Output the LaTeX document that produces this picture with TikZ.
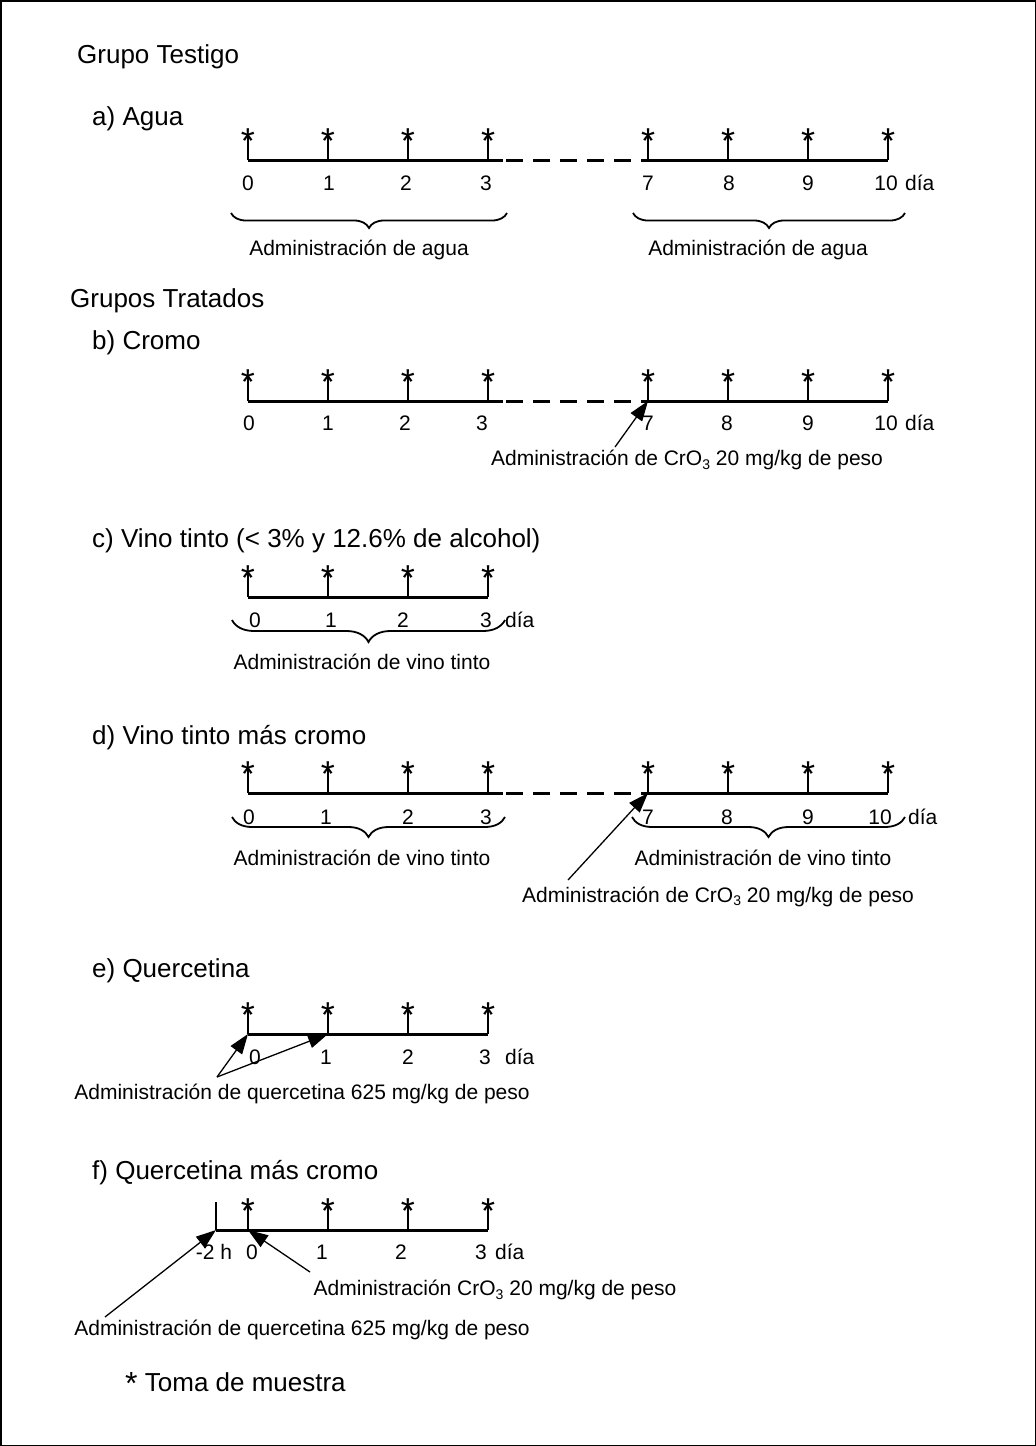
\documentclass[tikz,border=0pt]{standalone}
\usepackage{fontspec}
\setmainfont{Liberation Sans}
\usetikzlibrary{arrows.meta,decorations.pathreplacing}
\newcommand\subthree{\raisebox{-3.5pt}{\fontsize{14}{14}\selectfont 3}}
\begin{document}
\begin{tikzpicture}[x=1pt,y=-1pt,
  hd/.style={anchor=base west,inner sep=0pt,font=\fontsize{26}{30}\selectfont},
  lb/.style={anchor=base,inner sep=0pt,font=\fontsize{21}{25}\selectfont},
  lbw/.style={lb,anchor=base west},
  ast/.style={anchor=base,inner sep=0pt,font=\fontsize{36}{40}\selectfont},
  axisline/.style={line width=3pt},
  tk/.style={line width=1.6pt},
  dashgap/.style={line width=3pt,dash pattern=on 17pt off 10pt},
  brc/.style={decorate,decoration={brace,mirror,amplitude=#1},line width=1.8pt},
  arr/.style={-{Triangle[length=20pt,width=14pt]},line width=1.3pt},
]
\useasboundingbox (0,0) rectangle (1036,1446);
\draw[line width=1.5pt] (0.75,0.75) rectangle (1035.25,1445.25);

% ---------------- a) Agua
\node[hd] (tGT) at (77,63) {Grupo Testigo};
\node[hd] (tA) at (92,125) {a) Agua};
\def\Y{160}
\draw[axisline] (248,\Y) -- (503,\Y);
\draw[dashgap] (506,\Y) -- (648,\Y);
\draw[axisline] (648,\Y) -- (888,\Y);
\foreach \n/\x in {0/248,1/328,2/408,3/488,7/648,8/728,9/808,10/888}{
  \coordinate (a\n) at (\x,\Y);
  \draw[tk] (\x,{\Y-26}) -- (a\n);
  \node[ast] (as\n) at (\x,{\Y-7}) {*};
}
\foreach \n/\x in {0/248,1/329,2/406,3/486,7/648,8/729,9/808,10/886}{
  \node[lb] (an\n) at (\x,190.5) {\n};
}
\node[lbw] (adia) at (905,190.5) {día};
\draw[brc=15] (231,213) -- (507,213);
\draw[brc=15] (633,213) -- (905,213);
\node[lb] (aAd1) at (359,255.5) {Administración de agua};
\node[lb] (aAd2) at (758,255.5) {Administración de agua};

% ---------------- b) Cromo
\node[hd] (tGTr) at (70,307) {Grupos Tratados};
\node[hd] (tB) at (92,349) {b) Cromo};
\def\Y{401}
\draw[axisline] (248,\Y) -- (503,\Y);
\draw[dashgap] (506,\Y) -- (648,\Y);
\draw[axisline] (648,\Y) -- (888,\Y);
\foreach \n/\x in {0/248,1/328,2/408,3/488,7/648,8/728,9/808,10/888}{
  \coordinate (b\n) at (\x,\Y);
  \draw[tk] (\x,{\Y-26}) -- (b\n);
  \node[ast] (bs\n) at (\x,{\Y-7}) {*};
}
\foreach \n/\x in {0/249,1/328,2/405,3/482,7/648,8/727,9/808,10/886}{
  \node[lb] (bn\n) at (\x,430.5) {\n};
}
\node[lbw] (bdia) at (905,430.5) {día};
\node[lb] (bCr) at (687,465.5) {Administración de CrO\subthree{} 20 mg/kg de peso};
\coordinate (bT) at (615,447);
\draw[arr] (bT) -- (b7);

% ---------------- c) Vino tinto
\node[hd] (tC) at (92,547) {c) Vino tinto (< 3\% y 12.6\% de alcohol)};
\def\Y{597}
\draw[axisline] (248,\Y) -- (488,\Y);
\foreach \n/\x in {0/248,1/328,2/408,3/488}{
  \coordinate (c\n) at (\x,\Y);
  \draw[tk] (\x,{\Y-26}) -- (c\n);
  \node[ast] (cs\n) at (\x,{\Y-7}) {*};
}
\foreach \n/\x in {0/255,1/331,2/403,3/486}{
  \node[lb] (cn\n) at (\x,627.5) {\n};
}
\node[lbw] (cdia) at (505,627.5) {día};
\draw[brc=22] (232,620) -- (505,620);
\node[lb] (cAd) at (362,669.5) {Administración de vino tinto};

% ---------------- d) Vino tinto mas cromo
\node[hd] (tD) at (92,744) {d) Vino tinto más cromo};
\def\Y{793}
\draw[axisline] (248,\Y) -- (503,\Y);
\draw[dashgap] (506,\Y) -- (648,\Y);
\draw[axisline] (648,\Y) -- (888,\Y);
\foreach \n/\x in {0/248,1/328,2/408,3/488,7/648,8/728,9/808,10/888}{
  \coordinate (d\n) at (\x,\Y);
  \draw[tk] (\x,{\Y-26}) -- (d\n);
  \node[ast] (ds\n) at (\x,{\Y-7}) {*};
}
\foreach \n/\x in {0/249,1/326,2/408,3/486,7/648,8/727,9/808,10/880}{
  \node[lb] (dn\n) at (\x,824.5) {\n};
}
\node[lbw] (ddia) at (908,824.5) {día};
\draw[brc=20] (232,817) -- (505,817);
\draw[brc=20] (632,817) -- (905,817);
\node[lb] (dAd1) at (362,865.5) {Administración de vino tinto};
\node[lb] (dAd2) at (763,865.5) {Administración de vino tinto};
\node[lb] (dCr) at (718,902) {Administración de CrO\subthree{} 20 mg/kg de peso};
\coordinate (dT) at (568,880);
\draw[arr] (dT) -- (d7);

% ---------------- e) Quercetina
\node[hd] (tE) at (92,977) {e) Quercetina};
\def\Y{1034}
\draw[axisline] (248,\Y) -- (488,\Y);
\foreach \n/\x in {0/248,1/328,2/408,3/488}{
  \coordinate (e\n) at (\x,\Y);
  \draw[tk] (\x,{\Y-26}) -- (e\n);
  \node[ast] (es\n) at (\x,{\Y-7}) {*};
}
\foreach \n/\x in {0/255,1/326,2/408,3/485}{
  \node[lb] (en\n) at (\x,1064.5) {\n};
}
\node[lbw] (edia) at (505,1064.5) {día};
\node[lb] (eQ) at (302,1099.5) {Administración de quercetina 625 mg/kg de peso};
\coordinate (eT) at (217,1077);
\draw[arr] (eT) -- (e0);
\draw[arr] (eT) -- (e1);

% ---------------- f) Quercetina mas cromo
\node[hd] (tF) at (92,1179) {f) Quercetina más cromo};
\def\Y{1230}
\coordinate (fm) at (216,\Y);
\draw[axisline] (fm) -- (488,\Y);
\draw[tk] (216,1202) -- (fm);
\foreach \n/\x in {0/248,1/328,2/408,3/488}{
  \coordinate (f\n) at (\x,\Y);
  \draw[tk] (\x,{\Y-24}) -- (f\n);
  \node[ast] (fs\n) at (\x,{\Y-7}) {*};
}
\node[lb] (fnm) at (214,1259.5) {-2 h};
\foreach \n/\x in {0/252,1/322,2/401,3/481}{
  \node[lb] (fn\n) at (\x,1259.5) {\n};
}
\node[lbw] (fdia) at (495,1259.5) {día};
\node[lb] (fCr) at (495,1295.5) {Administración CrO\subthree{} 20 mg/kg de peso};
\node[lb] (fQ) at (302,1335.5) {Administración de quercetina 625 mg/kg de peso};
\coordinate (fT1) at (105,1317);
\coordinate (fT2) at (310,1272);
\draw[arr] (fT1) -- (fm);
\draw[arr] (fT2) -- (f0);

% ---------------- legend
\node[hd] (leg) at (125,1391) {{\fontsize{32}{34}\selectfont\raisebox{-3pt}{*}} Toma de muestra};
\end{tikzpicture}
\end{document}
